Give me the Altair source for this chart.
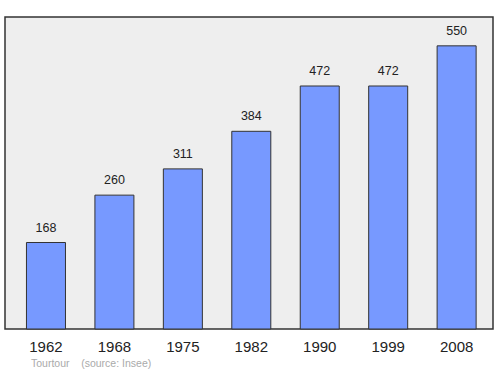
import altair as alt
import pandas as pd

years = ["1962", "1968", "1975", "1982", "1990", "1999", "2008"]
population = [168, 260, 311, 384, 472, 472, 550]

df = pd.DataFrame({"year": years, "pop": population})

x = alt.X("year:N", sort=years, title=None,
          scale=alt.Scale(paddingInner=0.43, paddingOuter=0.28, align=0.56),
          axis=alt.Axis(labelAngle=0, labelFontSize=15, labelFont="Liberation Sans",
                        labelColor="#222", ticks=False, domain=False, labelPadding=10))
y = alt.Y("pop:Q", scale=alt.Scale(domain=[0, 606], nice=False), axis=None)

bars = alt.Chart(df).mark_bar(color="#7799ff", stroke="#333333", strokeWidth=1).encode(x=x, y=y)
labels = alt.Chart(df).mark_text(baseline="alphabetic", dy=-11, fontSize=12.5,
                                 font="Liberation Sans", color="#222").encode(
    x=x, y=y, text="pop:Q")

chart = (bars + labels).properties(
    width=488, height=312,
    autosize=alt.AutoSizeParams(type="none"),
    padding={"left": 5, "top": 17, "right": 7, "bottom": 45},
    background="white",
    title=alt.TitleParams(text="Tourtour\u00a0\u00a0\u00a0\u00a0(source: Insee)", orient="bottom",
                          anchor="start", fontSize=10.5, font="Liberation Sans",
                          fontWeight="normal", color="#aaaaaa", dx=26, offset=5),
).configure_view(fill="#eeeeee", stroke="#333333", strokeWidth=1.5)

chart.save("out.html", embed_options={"renderer": "svg", "actions": False})
